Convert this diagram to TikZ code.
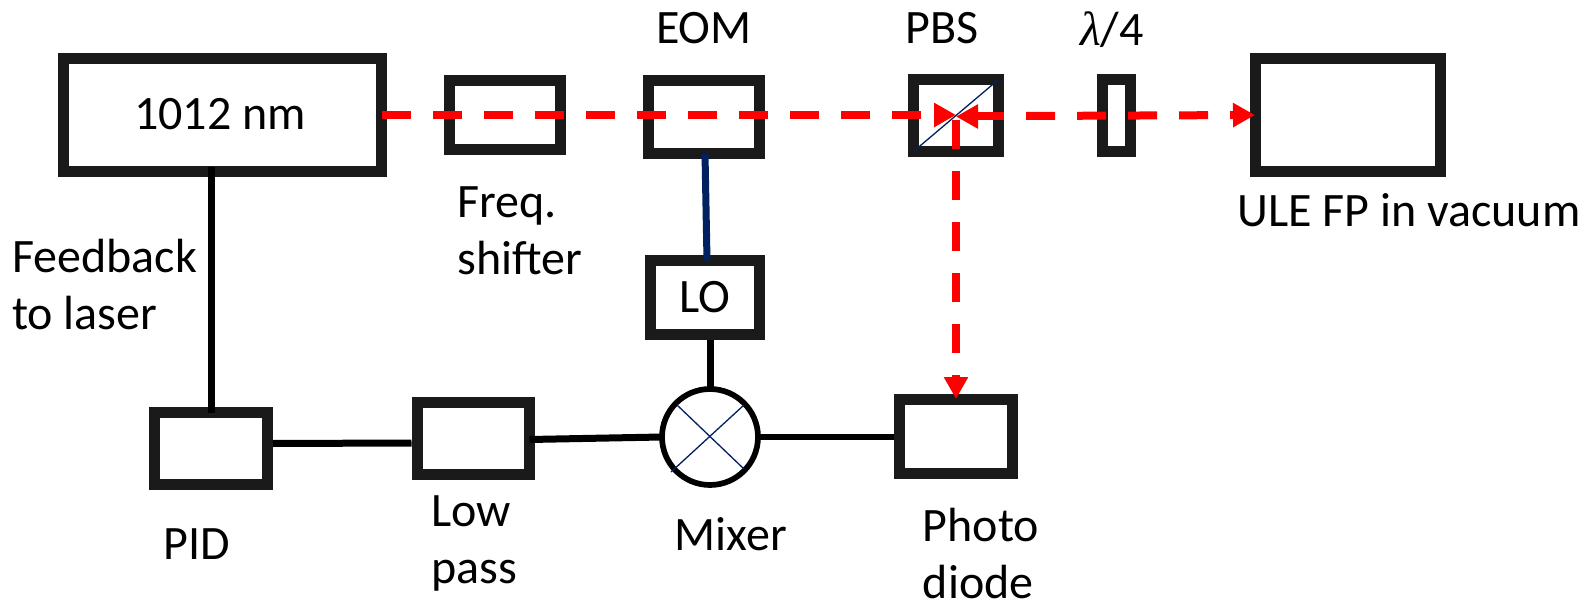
\documentclass[tikz,border=0pt]{standalone}
\usepackage{fontspec}
\setmainfont{Carlito}
\newfontfamily\lamfont{Liberation Serif}
\usetikzlibrary{arrows.meta,calc}
\definecolor{boxk}{HTML}{1A1A1A}
\definecolor{navy}{HTML}{002060}
\tikzset{
  x=1pt,y=-1pt,
  devbox/.style={draw=boxk,line width=11pt,fill=white,inner sep=0pt,outer sep=0pt,font=\fontsize{48}{57}\selectfont},
  wire/.style={black,line width=7pt},
  thin navy/.style={navy,line width=1.3pt},
  beam/.style={red,line width=8pt,dash pattern=on 29pt off 22pt,-{Triangle[length=22pt,width=23pt]}},
  lbl/.style={inner sep=0pt,align=left,font=\fontsize{48}{57}\selectfont,anchor=center},
}
\newcommand{\devnode}[6]{% name, x0, y0, x1, y1, text
  \node[devbox,minimum width={#4-#2-11},minimum height={#5-#3-11}] (#1) at ({(#2+#4)/2},{(#3+#5)/2}) {#6};}
\begin{document}
\begin{tikzpicture}
\useasboundingbox[fill=white] (0,0) rectangle (1589,601);
\devnode{laser}{58}{53}{387}{177}{\raisebox{3pt}{1012 nm\kern5pt}}
\devnode{freq}{444}{75}{566}{155}{}
\devnode{eom}{643}{75}{765}{159}{}
\devnode{pbs}{908}{74}{1004}{157}{}
\devnode{wave}{1097}{74}{1136}{157}{}
\devnode{ule}{1250}{53}{1446}{177}{}
\devnode{lo}{645}{255}{765}{340}{LO}
\devnode{photo}{894}{394}{1018}{479}{}
\devnode{low}{412}{397}{535}{480}{}
\devnode{pid}{149}{407}{273}{490}{}
\node[circle,draw=black,line width=5.7pt,fill=white,minimum size=96pt,inner sep=0pt,outer sep=0pt] (mixer) at (710,437) {};
% connectors
\draw[wire] ([yshift=4.5pt]laser.south -| pid.north) -- (pid.north);
\draw[wire] ([xshift=5.5pt]pid.east |- 0,443.5) -- ([xshift=-6pt]low.west |- 0,443);
\draw[wire] (low.east |- 0,439.5) -- (mixer.west);
\draw[wire,line width=6.5pt] (mixer.east) -- ([xshift=-5.5pt]photo.west |- mixer.east);
\draw[wire] ([yshift=-5.5pt]lo.south -| mixer.north) -- (mixer.north);
\draw[navy,line width=7pt] ([xshift=1pt]eom.south) -- ([xshift=2pt]lo.north);
% mixer cross and PBS diagonal
\draw[thin navy] ($(mixer.center)+(-39,35)$) -- ($(mixer.center)+(34,-32)$);
\draw[thin navy] ($(mixer.center)+(-33,-32)$) -- ($(mixer.center)+(34,32)$);
\draw[thin navy] (914,151) -- (998,80);
% beams
\coordinate (beamA) at (382,115);
\coordinate (beamB) at (956,115);
\coordinate (beamC) at (956,116.5);
\coordinate (beamD) at (1255,115);
\coordinate (beamE) at (956,120);
\coordinate (beamF) at (956,399);
\draw[beam] (beamA) -- (beamB);
\draw[beam] (1004,116.5) -- (beamC);
\draw[beam,dash phase=0pt] (1026,116) -- (beamD);
\draw[beam] (beamE) -- (beamF);
% labels
\node[lbl] (teom) at (704,28) {EOM};
\node[lbl] (tpbs) at (942,28) {PBS};
\node[lbl] (twave) at (1112,30) {{\lamfont\itshape λ}/4};
\node[lbl] (tule) at (1409,210) {ULE FP in vacuum};
\node[lbl] (tfreq) at (520,231) {Freq.\\shifter};
\node[lbl] (tfb) at (104.5,285) {Feedback\\to laser};
\node[lbl] (tpid) at (197,544) {PID};
\node[lbl] (tlow) at (474,543) {Low\\pass};
\node[lbl] (tmix) at (731,534) {Mixer};
\node[lbl] (tphoto) at (981,553) {Photo\\diode};
\end{tikzpicture}
\end{document}
